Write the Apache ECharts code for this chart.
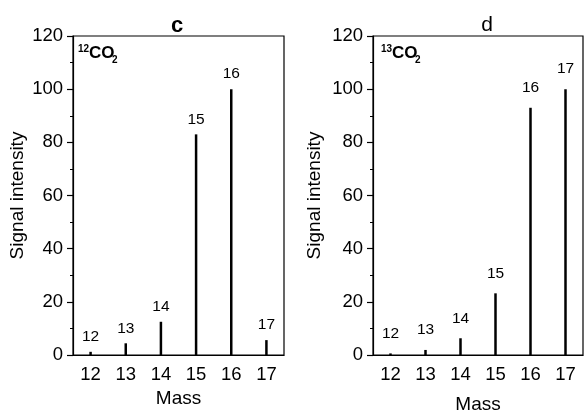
<!DOCTYPE html>
<html>
<head>
<meta charset="utf-8">
<script src="https://cdn.jsdelivr.net/npm/echarts@6/dist/echarts.min.js"></script>
<style>
html,body{margin:0;padding:0;background:#fff;}
#chart{width:585px;height:414px;}
</style>
</head>
<body>
<div id="chart"></div>
<script>
const masses = ['12', '13', '14', '15', '16', '17'];
const co2_12 = [1.2, 4.4, 12.5, 83, 100, 5.6];
const co2_13 = [0.6, 1.9, 6.3, 23.2, 93, 100];
const yTicks = [0, 20, 40, 60, 80, 100, 120];
const panelTitles = ['c', 'd'];

const FONT = 'Liberation Sans, Arial, sans-serif';
const chart = echarts.init(document.getElementById('chart'));

function xAxis(idx, nameGap) {
  return {
    type: 'category', gridIndex: idx, data: masses, boundaryGap: true,
    name: 'Mass', nameLocation: 'middle', nameGap: nameGap,
    nameTextStyle: {fontFamily: FONT, fontSize: 19, color: '#000'},
    axisLine: {lineStyle: {color: '#000', width: 1.2}},
    axisTick: {alignWithLabel: true, length: 5, lineStyle: {color: '#000', width: 1.2}},
    axisLabel: {fontFamily: FONT, fontSize: 18.5, color: '#000', margin: 10},
    splitLine: {show: false}
  };
}
function yAxis(idx, nameGap) {
  return {
    type: 'value', gridIndex: idx, min: yTicks[0], max: yTicks[yTicks.length - 1], interval: 20,
    name: 'Signal intensity', nameLocation: 'middle', nameGap: nameGap,
    nameTextStyle: {fontFamily: FONT, fontSize: 19, color: '#000'},
    axisLine: {show: true, lineStyle: {color: '#000', width: 1.2}},
    axisTick: {show: true, length: 6, lineStyle: {color: '#000', width: 1.2}},
    minorTick: {show: true, splitNumber: 2, length: 3, lineStyle: {color: '#000', width: 1}},
    axisLabel: {fontFamily: FONT, fontSize: 18.5, color: '#000', margin: 10},
    splitLine: {show: false}, minorSplitLine: {show: false}
  };
}
function series(idx, data, dist) {
  return {
    type: 'bar', xAxisIndex: idx, yAxisIndex: idx, data: data, barWidth: 2.5,
    itemStyle: {color: '#000'},
    label: {show: true, position: 'top', distance: dist, formatter: p => masses[p.dataIndex],
      fontFamily: FONT, fontSize: 15.5, color: '#000'}
  };
}
function species(x, y, mass) {
  return [
    {type: 'text', left: x, top: y, style: {text: mass, font: 'bold 10px ' + FONT, fill: '#000'}},
    {type: 'text', left: x + 11, top: y + 1, style: {text: 'CO', font: 'bold 17px ' + FONT, fill: '#000'}},
    {type: 'text', left: x + 34, top: y + 11, style: {text: '2', font: 'bold 10px ' + FONT, fill: '#000'}}
  ];
}
function panelTitle(x, y, text, weight, size) {
  return {type: 'text', x: x, y: y, style: {text: text, align: 'center', verticalAlign: 'middle',
    font: weight + ' ' + size + 'px ' + FONT, fill: '#000'}};
}

const gridBase = {top: 36, height: 319, show: true, borderColor: '#000', borderWidth: 1.2,
  containLabel: false, outerBoundsMode: 'none'};

chart.setOption({
  animation: false,
  backgroundColor: '#fff',
  grid: [
    Object.assign({left: 73, width: 211}, gridBase),
    Object.assign({left: 373, width: 210}, gridBase)
  ],
  xAxis: [xAxis(0, 31), xAxis(1, 40)],
  yAxis: [yAxis(0, 46), yAxis(1, 49)],
  series: [series(0, co2_12, 7), series(1, co2_13, 12)],
  graphic: [].concat(
    species(78, 44, '12'), species(381, 44, '13'),
    [panelTitle(177, 26, panelTitles[0], 'bold', 22), panelTitle(487, 25, panelTitles[1], 'normal', 21)]
  )
});
</script>
</body>
</html>
